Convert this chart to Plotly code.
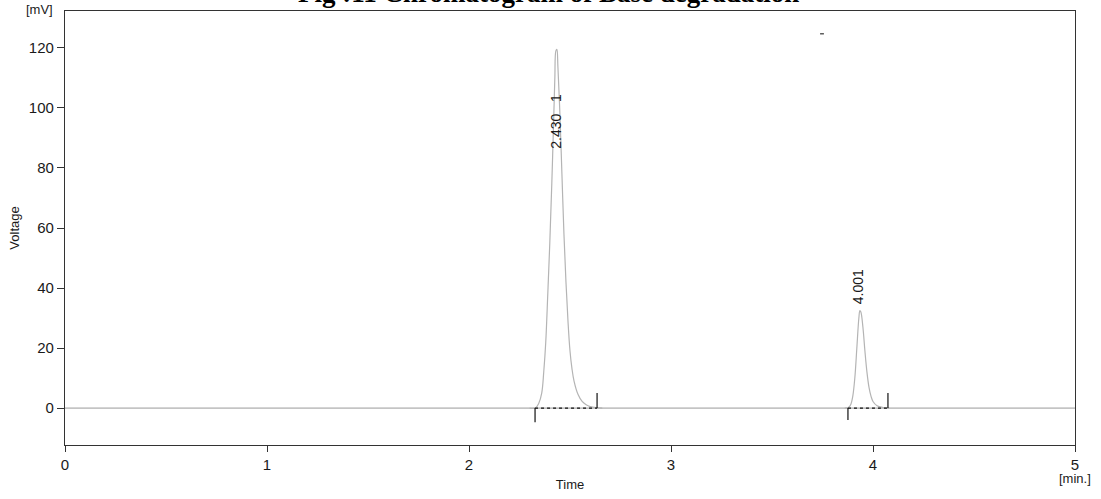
import plotly.graph_objects as go

# ---- data ----
baseline_t = [0.0, 5.0]
baseline_v = [0.0, 0.0]

peak1_t = [2.30, 2.33, 2.345, 2.36, 2.37, 2.38, 2.39, 2.40, 2.41, 2.42, 2.425, 2.43, 2.435,
           2.44, 2.45, 2.46, 2.47, 2.48, 2.49, 2.50, 2.51, 2.52, 2.54, 2.56, 2.58, 2.60, 2.63, 2.66]
peak1_v = [0.0, 0.1, 1.5, 5.0, 12.0, 22.0, 38.0, 55.0, 75.0, 98.0, 110.0, 119.0, 119.5,
           114.0, 98.0, 78.0, 58.0, 42.0, 29.0, 19.0, 13.0, 9.0, 4.5, 2.2, 1.1, 0.5, 0.15, 0.0]

peak2_t = [3.86, 3.87, 3.88, 3.89, 3.90, 3.91, 3.92, 3.93, 3.935, 3.94, 3.95, 3.96, 3.97,
           3.98, 3.99, 4.00, 4.02, 4.05, 4.08]
peak2_v = [0.0, 0.05, 0.3, 1.2, 4.0, 10.0, 20.0, 30.0, 32.5, 32.0, 27.0, 19.0, 12.0,
           7.0, 4.0, 2.2, 0.8, 0.2, 0.0]

# integration limits (start, end) of each peak
peak_start = [2.327, 3.876]
peak_end = [2.634, 4.074]
start_tick = [-4.7, -4.0]
end_tick = [5.0, 5.0]

# peak labels
label_text = ["2.430   1", "4.001"]
label_t = [2.43, 3.926]
label_v = [95.7, 40.3]

# stray mark near top
mark_t = [3.738, 3.757]
mark_v = [124.7, 124.7]

x_ticks = [0, 1, 2, 3, 4, 5]
y_ticks = [0, 20, 40, 60, 80, 100, 120]

FONT = "Liberation Sans, Arial, sans-serif"
fig = go.Figure()

fig.add_trace(go.Scatter(x=baseline_t, y=baseline_v, mode="lines",
                         line=dict(color="#9a9a9a", width=1), hoverinfo="skip"))
fig.add_trace(go.Scatter(x=peak1_t, y=peak1_v, mode="lines", line_shape="spline",
                         line=dict(color="#b4b4b4", width=1.2)))
fig.add_trace(go.Scatter(x=peak2_t, y=peak2_v, mode="lines", line_shape="spline",
                         line=dict(color="#b4b4b4", width=1.2)))

for s, e, st, et in zip(peak_start, peak_end, start_tick, end_tick):
    fig.add_trace(go.Scatter(x=[s, e], y=[0, 0], mode="lines",
                             line=dict(color="#111", width=1.2, dash="dot")))
    fig.add_trace(go.Scatter(x=[s, s], y=[0, st], mode="lines",
                             line=dict(color="#111", width=1.2)))
    fig.add_trace(go.Scatter(x=[e, e], y=[0, et], mode="lines",
                             line=dict(color="#111", width=1.2)))

fig.add_trace(go.Scatter(x=mark_t, y=mark_v, mode="lines",
                         line=dict(color="#333", width=1.2)))

for txt, t, v in zip(label_text, label_t, label_v):
    fig.add_annotation(x=t, y=v, xref="x", yref="y", text=txt, textangle=-90,
                       showarrow=False, font=dict(family=FONT, size=14, color="#1a1a1a"))

# title (clipped at top, as in the reference)
fig.add_annotation(x=0.5, y=1, xref="paper", yref="paper",
                   text="<b>Fig :11 Chromatogram of Base degradation</b>",
                   showarrow=False, yanchor="bottom", yshift=1, xshift=-22,
                   font=dict(family="Liberation Serif, Times New Roman, serif", size=27, color="#000"))
fig.add_annotation(x=0, y=1, xref="paper", yref="paper", text="[mV]",
                   showarrow=False, yanchor="bottom", xanchor="right", xshift=-10, yshift=-8,
                   font=dict(family=FONT, size=13, color="#1a1a1a"))
fig.add_annotation(x=1, y=0, xref="paper", yref="paper", text="[min.]",
                   showarrow=False, yanchor="middle", xanchor="center", yshift=-33,
                   font=dict(family=FONT, size=13, color="#1a1a1a"))

fig.update_layout(
    width=1101, height=499,
    margin=dict(l=65, r=26, t=11, b=54, autoexpand=False),
    paper_bgcolor="white", plot_bgcolor="white",
    showlegend=False,
    font=dict(family=FONT, color="#1a1a1a"),
    xaxis=dict(range=[0, 5], tickvals=x_ticks, ticks="outside", ticklen=6, tickcolor="#333",
               showline=True, linecolor="#333", linewidth=1.3, mirror=True, automargin=False,
               showgrid=False, zeroline=False, tickfont=dict(size=15),
               title=dict(text="Time", font=dict(size=13), standoff=7)),
    yaxis=dict(range=[-12.3, 132.3], tickvals=y_ticks, ticks="outside", ticklen=7, tickcolor="#333",
               showline=True, linecolor="#333", linewidth=1.3, mirror=True, automargin=False,
               showgrid=False, zeroline=False, tickfont=dict(size=15),
               title=dict(text="Voltage", font=dict(size=13), standoff=6)),
)

fig.write_html("out.html", config={"displayModeBar": False},
               post_script="document.body.style.margin='0';")
